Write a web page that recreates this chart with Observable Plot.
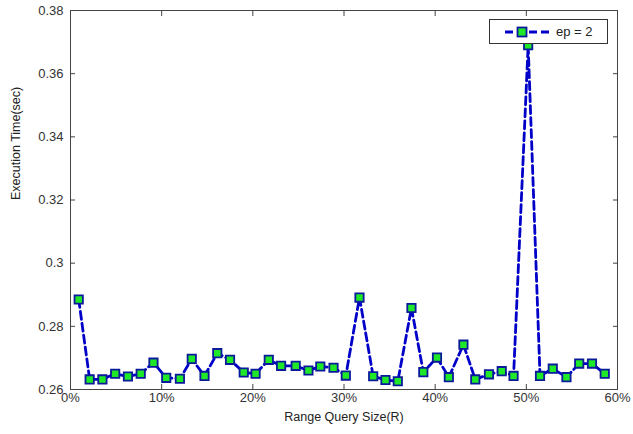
<!DOCTYPE html>
<html>
<head>
<meta charset="utf-8">
<script src="https://cdn.jsdelivr.net/npm/d3@7"></script>
<script src="https://cdn.jsdelivr.net/npm/@observablehq/plot@0.6"></script>
<style>
  html, body { margin: 0; padding: 0; background: #fff; }
  #wrap { position: relative; width: 633px; height: 434px; }
  #legend {
    position: absolute; left: 489px; top: 19px; width: 119px; height: 25px;
    border: 1px solid #333; background: #fff; box-sizing: border-box;
    font-family: "Liberation Sans", Arial, sans-serif; font-size: 13px; color: #222;
    display: flex; align-items: center;
  }
  #legend svg { margin-left: 14px; }
  #legend span { margin-left: 6px; }
</style>
</head>
<body>
<div id="wrap"></div>
<script>
// Range query size (%)
const rangeSize = [0.9, 2.1, 3.5, 4.9, 6.3, 7.7, 9.1, 10.5, 12.0, 13.3, 14.7, 16.1, 17.5, 19.0, 20.3,
  21.75, 23.1, 24.7, 26.1, 27.4, 28.85, 30.2, 31.7, 33.2, 34.55, 35.9, 37.4, 38.7, 40.2, 41.5,
  43.1, 44.4, 45.9, 47.3, 48.6, 50.2, 51.5, 52.9, 54.4, 55.8, 57.2, 58.6];
// Execution time (sec), series "ep = 2"
const execTime = [0.2885, 0.2632, 0.2632, 0.2650, 0.2641, 0.2650, 0.2685, 0.2637, 0.2634, 0.2697, 0.2643, 0.2715, 0.2694, 0.2654, 0.2650,
  0.2694, 0.2675, 0.2675, 0.2660, 0.2673, 0.2669, 0.2644, 0.2891, 0.2642, 0.2630, 0.2626, 0.2858, 0.2655, 0.2701, 0.2639,
  0.2742, 0.2632, 0.2648, 0.2658, 0.2643, 0.3690, 0.2643, 0.2666, 0.2639, 0.2682, 0.2682, 0.2650];
const seriesName = "ep = 2";
const xTicks = [0, 10, 20, 30, 40, 50, 60];
const yTicks = [0.26, 0.28, 0.30, 0.32, 0.34, 0.36, 0.38];

const data = rangeSize.map((x, i) => ({x, y: execTime[i]}));
const lineColor = "#0000c8";
const markerStroke = "#0a1a9a";
const markerFill = "#1ee828";
const axisColor = "#444";
const fmtY = d => String(+d.toFixed(2));
const fmtX = d => d + "%";

const chart = Plot.plot({
  width: 633, height: 434,
  marginLeft: 70, marginRight: 16, marginTop: 10, marginBottom: 45,
  style: {fontFamily: "'Liberation Sans', Arial, sans-serif", fontSize: "13px", color: "#333", background: "#fff"},
  x: {domain: [0, 60]},
  y: {domain: [0.26, 0.38]},
  marks: [
    Plot.frame({stroke: axisColor}),
    // inward ticks
    Plot.axisX(xTicks, {anchor: "bottom", tickSize: -5, text: null, label: null, stroke: axisColor}),
    Plot.axisX(xTicks, {anchor: "top", tickSize: -5, text: null, label: null, stroke: axisColor}),
    Plot.axisY(yTicks, {anchor: "left", tickSize: -5, text: null, label: null, stroke: axisColor}),
    Plot.axisY(yTicks, {anchor: "right", tickSize: -5, text: null, label: null, stroke: axisColor}),
    // tick labels
    Plot.axisX(xTicks, {anchor: "bottom", tickSize: 0, tickPadding: 3, tickFormat: fmtX, label: null, fill: "#333"}),
    Plot.axisY(yTicks, {anchor: "left", tickSize: 0, tickPadding: 7, tickFormat: fmtY, label: null, fill: "#333"}),
    // axis titles
    Plot.text(["Range Query Size(R)"], {frameAnchor: "bottom", dy: 31, fontSize: 12.5, fill: "#222"}),
    Plot.text(["Execution Time(sec)"], {frameAnchor: "left", dx: -55, rotate: -90, fontSize: 12.5, fill: "#222"}),
    // series
    Plot.line(data, {x: "x", y: "y", stroke: lineColor, strokeWidth: 2.8, strokeDasharray: "8,4"}),
    Plot.dot(data, {x: "x", y: "y", symbol: "square", r: 4.7, fill: markerFill, stroke: markerStroke, strokeWidth: 1.8})
  ]
});

const wrap = document.getElementById("wrap");
wrap.appendChild(chart);

const legend = document.createElement("div");
legend.id = "legend";
legend.innerHTML = `<svg width="46" height="14" viewBox="0 0 46 14">
  <line x1="1" y1="7" x2="45" y2="7" stroke="${lineColor}" stroke-width="2.8" stroke-dasharray="8,4"/>
  <rect x="13.5" y="2.5" width="9" height="9" fill="${markerFill}" stroke="${markerStroke}" stroke-width="1.8"/>
</svg><span>${seriesName}</span>`;
wrap.appendChild(legend);
</script>
</body>
</html>
